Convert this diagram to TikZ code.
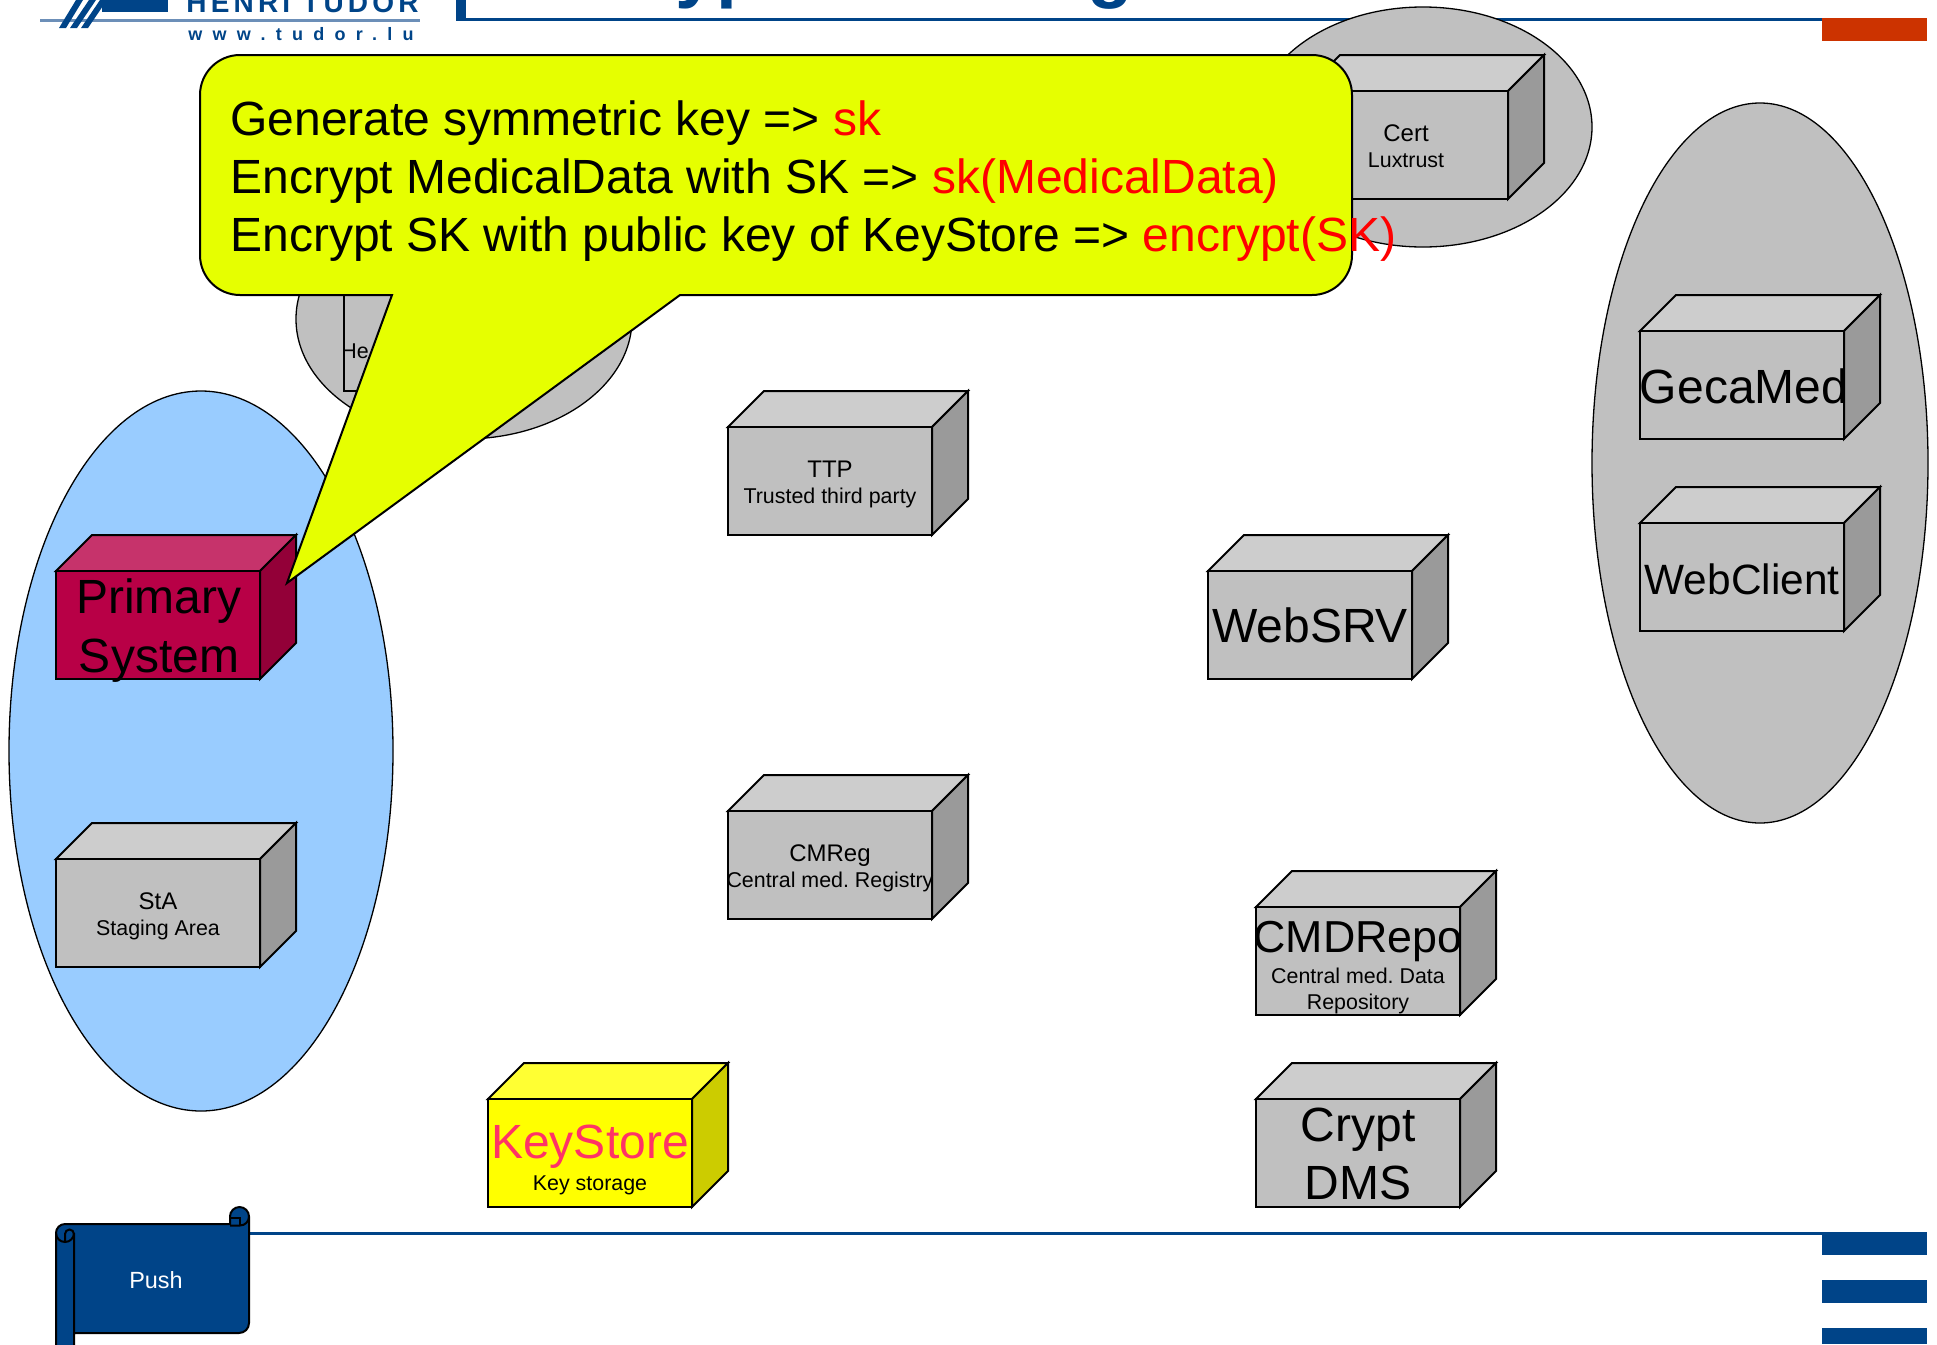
\documentclass[tikz,border=0pt]{standalone}
\usepackage{fontspec}
\setmainfont{Liberation Sans}
\newfontfamily\logoA[LetterSpace=15]{Liberation Sans Bold}
\newfontfamily\logoB[LetterSpace=57]{Liberation Sans Bold}
\frenchspacing
\definecolor{tudorblue}{HTML}{004488}
\definecolor{grayF}{HTML}{C0C0C0}
\definecolor{grayT}{HTML}{CDCDCD}
\definecolor{grayS}{HTML}{9A9A9A}
\definecolor{redF}{HTML}{B80046}
\definecolor{redT}{HTML}{C6336B}
\definecolor{redS}{HTML}{930038}
\definecolor{yelF}{HTML}{FFFF00}
\definecolor{yelT}{HTML}{FFFF33}
\definecolor{yelS}{HTML}{CCCC00}
\definecolor{skyblue}{HTML}{99CCFF}
\definecolor{callout}{HTML}{E6FF00}
\definecolor{pinktext}{HTML}{FF3366}
\definecolor{orangebar}{HTML}{CC3300}
\definecolor{logoline}{HTML}{6C8FB8}
\tikzset{
  x=0.5pt,y=-0.5pt,
  outline/.style={draw=black,line width=1pt,line join=miter},
  thinoutline/.style={draw=black,line width=0.65pt},
  big/.style={anchor=base,inner sep=0pt,font=\fontsize{24}{24}\selectfont},
  tight/.style={anchor=base,inner sep=0pt,font=\fontsize{22.4}{24}\selectfont},
  tighter/.style={anchor=base,inner sep=0pt,font=\fontsize{21.2}{24}\selectfont},
  mid/.style={anchor=base,inner sep=0pt,font=\fontsize{12}{12}\selectfont},
  small/.style={anchor=base,inner sep=0pt,font=\fontsize{10.7}{12}\selectfont},
  calloutline/.style={anchor=base west,inner sep=0pt,font=\fontsize{24}{24}\selectfont},
}
\newcommand{\cube}[5]{%
  \begin{scope}[shift={(#1,#2)}]
    \filldraw[outline,fill=#4] (0,0) -- (36,-36) -- (240,-36) -- (204,0) -- cycle;
    \filldraw[outline,fill=#5] (204,0) -- (240,-36) -- (240,72) -- (204,108) -- cycle;
    \filldraw[outline,fill=#3] (0,0) rectangle (204,108);
  \end{scope}}
\begin{document}
\begin{tikzpicture}
\useasboundingbox (0,0) rectangle (1937,1344);
\begin{scope}
\clip (0,0) rectangle (1937,1344);
% logo
\fill[logoline] (40,18.5) rectangle (420,22);
\fill[tudorblue] (102,0) rectangle (168,12);
\fill[tudorblue] (76,0) -- (83,0) -- (66,28) -- (59,28) -- cycle;
\fill[tudorblue] (89,0) -- (96,0) -- (77,28) -- (70,28) -- cycle;
\fill[tudorblue] (100,0) -- (107,0) -- (88,28) -- (81,28) -- cycle;
\node[anchor=base west,inner sep=0pt,text=tudorblue,font=\logoA\fontsize{14}{14}\selectfont] (logoname) at (186,12) {HENRI TUDOR};
\node[anchor=base west,inner sep=0pt,text=tudorblue,font=\logoB\fontsize{9}{9}\selectfont] (logourl) at (188,40) {www.tudor.lu};
% header
\node[anchor=base west,inner sep=0pt,text=tudorblue,font=\bfseries\fontsize{37.5}{37.5}\selectfont] (title) at (508,-7) {Encrypted Storage};
\fill[tudorblue] (456,0) rectangle (466,21);
\fill[tudorblue] (456,18) rectangle (1822,21);
\fill[orangebar] (1822,18) rectangle (1927,41);
% footer line and blocks
\fill[tudorblue] (240,1232) rectangle (1822,1235);
\fill[tudorblue] (1822,1232) rectangle (1927,1255);
\fill[tudorblue] (1822,1280) rectangle (1927,1303);
\fill[tudorblue] (1822,1328) rectangle (1927,1344);
% ellipses
\filldraw[thinoutline,fill=grayF] (1423,127) ellipse (169 and 120);
\filldraw[thinoutline,fill=grayF] (464,319) ellipse (168 and 120);
\filldraw[thinoutline,fill=skyblue] (201,751) ellipse (192 and 360);
\filldraw[thinoutline,fill=grayF] (1760,463) ellipse (168 and 360);
% cubes
\cube{344}{283}{grayF}{grayT}{grayS}
\node[small,anchor=base west] (he) at (341,358) {He};
\cube{1304}{91}{grayF}{grayT}{grayS}
\node[mid] (certA) at (1406,141) {Cert};
\node[small] (certB) at (1406,167) {Luxtrust};
\cube{56}{571}{redF}{redT}{redS}
\node[big] (primA) at (159,613) {Primary};
\node[big] (primB) at (159,672) {System};
\cube{56}{859}{grayF}{grayT}{grayS}
\node[mid] (staA) at (158,909) {StA};
\node[small] (staB) at (158,935) {Staging Area};
\cube{728}{427}{grayF}{grayT}{grayS}
\node[mid] (ttpA) at (830,477) {TTP};
\node[small] (ttpB) at (830,503) {Trusted third party};
\cube{1208}{571}{grayF}{grayT}{grayS}
\node[big] (websrv) at (1310,642) {WebSRV};
\cube{728}{811}{grayF}{grayT}{grayS}
\node[mid] (cmregA) at (830,861) {CMReg};
\node[small] (cmregB) at (830,887) {Central med. Registry};
\cube{1256}{907}{grayF}{grayT}{grayS}
\node[tight] (cmdA) at (1358,952) {CMDRepo};
\node[small] (cmdB) at (1358,983) {Central med. Data};
\node[small] (cmdC) at (1358,1009) {Repository};
\cube{1256}{1099}{grayF}{grayT}{grayS}
\node[big] (cryptA) at (1358,1141) {Crypt};
\node[big] (cryptB) at (1358,1199) {DMS};
\cube{488}{1099}{yelF}{yelT}{yelS}
\node[big,text=pinktext] (keyA) at (590,1158) {KeyStore};
\node[small] (keyB) at (590,1190) {Key storage};
\cube{1640}{331}{grayF}{grayT}{grayS}
\node[big] (geca) at (1744,403) {GecaMed};
\cube{1640}{523}{grayF}{grayT}{grayS}
\node[tighter] (webcl) at (1742,594) {WebClient};
% callout
\filldraw[outline,fill=callout] (392,295) -- (287,583) -- (680,295) -- (1312,295)
  arc (90:0:40) -- (1352,95) arc (0:-90:40) -- (240,55) arc (-90:-180:40)
  -- (200,255) arc (180:90:40) -- cycle;
\node[calloutline] (lineA) at (230,135) {Generate symmetric key => \textcolor{red}{sk}};
\node[calloutline] (lineB) at (230,193) {Encrypt MedicalData with SK => \textcolor{red}{sk(MedicalData)}};
\node[calloutline] (lineC) at (230,251) {Encrypt SK with public key of KeyStore => \textcolor{red}{encrypt(SK)}};
% scroll
\filldraw[outline,fill=tudorblue] (56,1350) -- (56,1233) arc (180:270:9) -- (230,1224)
  -- (230,1216.5) arc (180:360:9.5) -- (249,1323) arc (0:90:10) -- (74,1333) -- (74,1350) -- cycle;
\draw[outline] (74,1333) -- (74,1233) arc (0:180:9);
\draw[outline] (65,1242) -- (65,1234) arc (180:360:4.5);
\draw[outline] (249,1216.5) arc (0:90:9) -- (230,1225.5);
\draw[outline] (231,1218) -- (240,1218) -- (240,1225);
\node[anchor=base,inner sep=0pt,text=white,font=\fontsize{11.7}{12}\selectfont] (push) at (156,1288) {Push};
\end{scope}
\end{tikzpicture}
\end{document}
